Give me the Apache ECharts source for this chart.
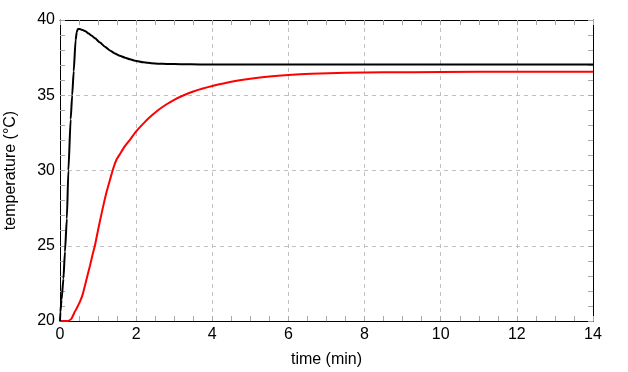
<!DOCTYPE html>
<html>
<head>
<meta charset="utf-8">
<script src="https://cdn.jsdelivr.net/npm/echarts@6/dist/echarts.min.js"></script>
<style>
html,body{margin:0;padding:0;background:#fff;}
#chart{width:628px;height:372px;}
</style>
</head>
<body>
<div id="chart"></div>
<script>
// time (min) and temperature (°C) for the black curve
const blackTime = [0, 0.01, 0.04, 0.09, 0.13, 0.18, 0.22, 0.28, 0.32, 0.36, 0.41, 0.44, 0.47, 0.52, 0.60, 0.66, 0.75, 0.84, 0.92, 1.05, 1.18, 1.31, 1.44, 1.57, 1.71, 1.84, 1.97, 2.19, 2.40, 2.60, 2.80, 3.20, 3.68, 4.50, 6, 8, 10, 12, 14];
const blackTemp = [20, 20.6, 21.4, 22.8, 24.6, 26.8, 30.0, 33.4, 35.0, 36.6, 38.67, 39.2, 39.4, 39.4, 39.33, 39.27, 39.1, 38.95, 38.78, 38.5, 38.23, 37.98, 37.78, 37.62, 37.5, 37.39, 37.3, 37.19, 37.13, 37.1, 37.08, 37.06, 37.05, 37.04, 37.04, 37.04, 37.04, 37.04, 37.04];
// time (min) and temperature (°C) for the red curve
const redTime = [0, 0.1, 0.2, 0.25, 0.3, 0.39, 0.45, 0.525, 0.6, 0.66, 0.72, 0.79, 0.85, 0.92, 1.0, 1.08, 1.15, 1.226, 1.32, 1.40, 1.48, 1.576, 1.7, 1.84, 2.0, 2.2, 2.4, 2.6, 2.8, 3.0, 3.25, 3.5, 3.75, 4.0, 4.5, 5.0, 5.5, 6.0, 6.6, 7.5, 8.5, 10, 12, 14];
const redTemp = [20, 20, 20, 20.05, 20.15, 20.62, 20.9, 21.28, 21.8, 22.4, 23.0, 23.7, 24.35, 25.05, 26.05, 27.0, 27.8, 28.6, 29.45, 30.15, 30.7, 31.1, 31.6, 32.05, 32.6, 33.15, 33.63, 34.05, 34.4, 34.7, 35.0, 35.25, 35.45, 35.62, 35.9, 36.1, 36.25, 36.35, 36.43, 36.5, 36.52, 36.55, 36.56, 36.56];

const xTicks = {min: 0, max: 14, interval: 2, minorSplit: 4};
const yTicks = {min: 20, max: 40, interval: 5, minorSplit: 5};
const xName = 'time (min)';
const yName = 'temperature (°C)';

const FONT = 'Liberation Sans, Arial, sans-serif';
const tickGray = '#a8a8a8';

function pairs(xs, ys) { return xs.map((x, i) => [x, ys[i]]); }

function axisBase(t, pos, labels) {
  return {
    type: 'value', min: t.min, max: t.max, interval: t.interval, position: pos,
    axisLine: {show: true, onZero: false, lineStyle: {color: '#000', width: 1}},
    axisTick: {show: true, inside: true, length: 5, lineStyle: {color: tickGray}},
    minorTick: {show: true, splitNumber: t.minorSplit, length: 5, lineStyle: {color: tickGray}},
    splitLine: {show: false},
    axisLabel: {show: labels, color: '#000', fontSize: 16, fontFamily: FONT}
  };
}

const xMain = axisBase(xTicks, 'bottom', true);
xMain.axisLabel.margin = 6;
xMain.splitLine = {show: true, lineStyle: {color: '#c0c0c0', type: [4, 4], width: 1}};
xMain.name = xName; xMain.nameLocation = 'middle'; xMain.nameGap = 31;
xMain.nameTextStyle = {color: '#000', fontSize: 16, fontFamily: FONT};

const yMain = axisBase(yTicks, 'left', true);
yMain.axisLabel.margin = 5;
yMain.splitLine = {show: true, lineStyle: {color: '#c0c0c0', type: [4, 4], width: 1}};
yMain.name = yName; yMain.nameLocation = 'middle'; yMain.nameGap = 41;
yMain.nameTextStyle = {color: '#000', fontSize: 16, fontFamily: FONT};

const chart = echarts.init(document.getElementById('chart'), null, {renderer: 'canvas'});
chart.setOption({
  animation: false,
  backgroundColor: '#fff',
  grid: {left: 60, right: 35, top: 20, bottom: 51, containLabel: false, outerBoundsMode: 'none'},
  xAxis: [xMain, axisBase(xTicks, 'top', false)],
  yAxis: [yMain, axisBase(yTicks, 'right', false)],
  series: [
    {type: 'line', xAxisIndex: 0, yAxisIndex: 0, data: pairs(redTime, redTemp), showSymbol: false,
     smooth: 0.2,
     lineStyle: {color: '#ff0000', width: 2}, itemStyle: {color: '#ff0000'}, z: 3},
    {type: 'line', xAxisIndex: 0, yAxisIndex: 0, data: pairs(blackTime, blackTemp), showSymbol: false,
     smooth: 0.2, smoothMonotone: 'x',
     lineStyle: {color: '#000000', width: 2}, itemStyle: {color: '#000'}, z: 4}
  ]
});
</script>
</body>
</html>
